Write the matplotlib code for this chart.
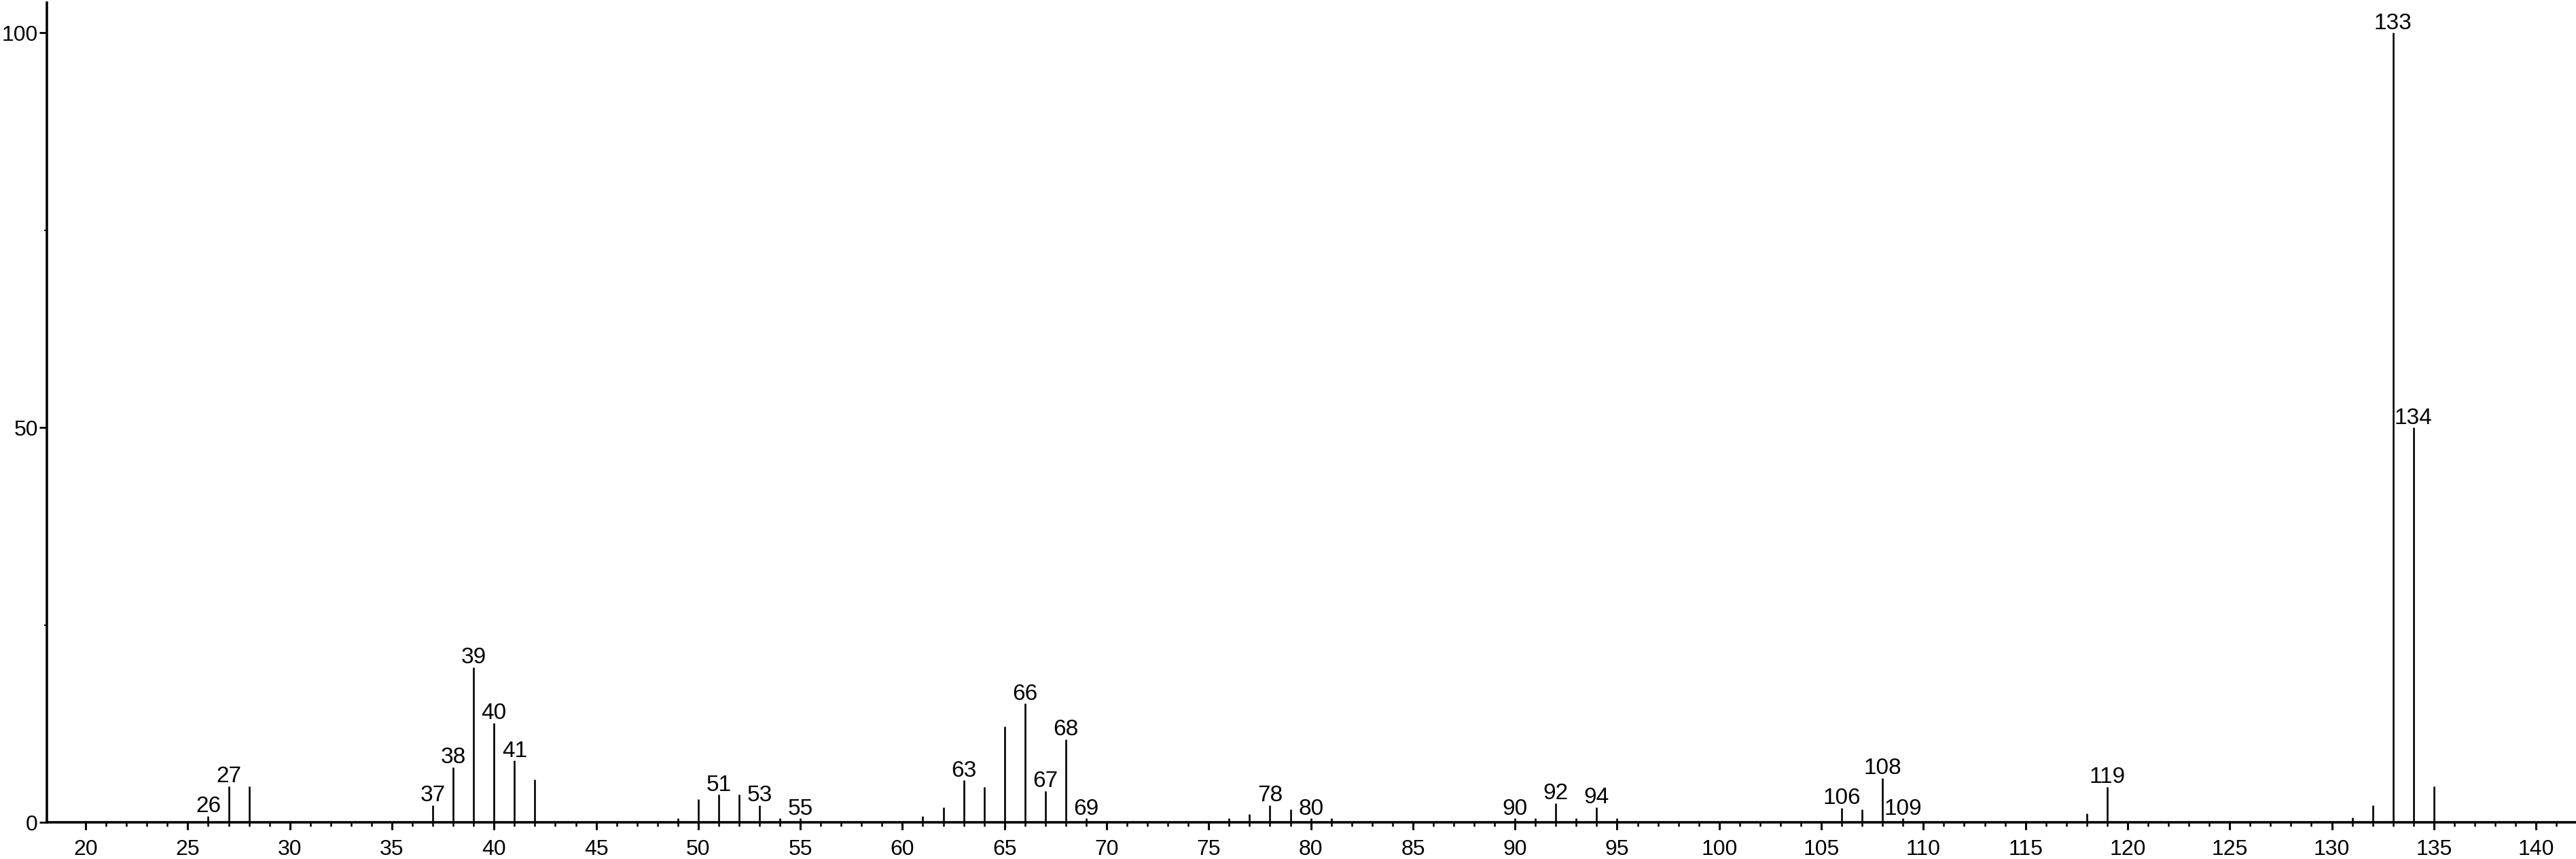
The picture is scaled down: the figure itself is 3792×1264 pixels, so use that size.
import matplotlib
matplotlib.use("Agg")
import matplotlib.pyplot as plt
from matplotlib.ticker import FixedLocator, NullFormatter

plt.rcParams['font.family'] = ['Liberation Sans', 'DejaVu Sans']

# m/z values and relative intensities
mz = [26, 27, 28, 37, 38, 39, 40, 41, 42, 49, 50, 51, 52, 53, 54, 55,
      61, 62, 63, 64, 65, 66, 67, 68, 69, 76, 77, 78, 79, 80, 81,
      90, 91, 92, 93, 94, 95, 106, 107, 108, 109, 118, 119,
      131, 132, 133, 134, 135]
intensity = [0.8, 4.6, 4.6, 2.15, 7.0, 19.65, 12.6, 7.8, 5.4, 0.5, 2.9, 3.5, 3.5, 2.15, 0.5, 0.5,
             0.8, 1.9, 5.3, 4.5, 12.1, 15.05, 4.0, 10.5, 0.5, 0.5, 1.05, 2.15, 1.6, 0.5, 0.5,
             0.5, 0.5, 2.45, 0.5, 1.9, 0.5, 1.85, 1.6, 5.6, 0.5, 1.1, 4.5,
             0.6, 2.15, 100.0, 50.0, 4.55]
labeled_mz = [26, 27, 37, 38, 39, 40, 41, 51, 53, 55, 63, 66, 67, 68, 69,
              78, 80, 90, 92, 94, 106, 108, 109, 119, 133, 134]

x_major = list(range(20, 145, 5))
x_minor = list(range(20, 142))
y_major = [0, 50, 100]
y_minor = [25, 75]

fig = plt.figure(figsize=(37.92, 12.64), dpi=100)
ax = fig.add_axes([69 / 3792, 1 - 1210 / 1264, 1 - 69 / 3792, (1210 - 4) / 1264])

ax.vlines(mz, 0, intensity, colors='black', linewidth=1.9)

lookup = dict(zip(mz, intensity))
for m in labeled_mz:
    ax.annotate(str(m), xy=(m, lookup[m]), xytext=(0, 4), textcoords='offset points',
                ha='center', va='baseline', fontsize=24, color='black', clip_on=False)

ax.set_xlim(18.1, 141.96)
ax.set_ylim(0, 103.8)

for s in ['top', 'right']:
    ax.spines[s].set_visible(False)
for s in ['left', 'bottom']:
    ax.spines[s].set_linewidth(2.6)
    ax.spines[s].set_color('black')

ax.xaxis.set_major_locator(FixedLocator(x_major))
ax.xaxis.set_minor_locator(FixedLocator(x_minor))
ax.yaxis.set_major_locator(FixedLocator(y_major))
ax.yaxis.set_minor_locator(FixedLocator(y_minor))
ax.yaxis.set_minor_formatter(NullFormatter())
ax.xaxis.set_minor_formatter(NullFormatter())

ax.tick_params(axis='x', which='major', direction='out', length=8, width=2.2, labelsize=23, pad=10)
ax.tick_params(axis='x', which='minor', direction='out', length=4, width=1.8)
ax.tick_params(axis='y', which='major', direction='out', length=8, width=2.0, labelsize=23, pad=1.5)
ax.tick_params(axis='y', which='minor', direction='out', length=3, width=1.5)

fig.savefig('out.png', dpi=100, facecolor='white')
